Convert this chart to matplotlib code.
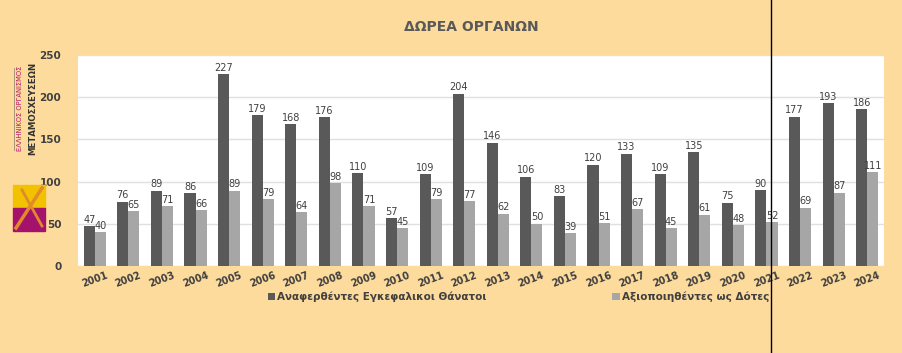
import numpy as np
import matplotlib.pyplot as plt
from matplotlib.patches import Rectangle

years = ['2001', '2002', '2003', '2004', '2005', '2006', '2007', '2008', '2009', '2010',
         '2011', '2012', '2013', '2014', '2015', '2016', '2017', '2018', '2019', '2020',
         '2021', '2022', '2023', '2024']
reported = [47, 76, 89, 86, 227, 179, 168, 176, 110, 57, 109, 204, 146, 106, 83, 120,
            133, 109, 135, 75, 90, 177, 193, 186]
donors = [40, 65, 71, 66, 89, 79, 64, 98, 71, 45, 79, 77, 62, 50, 39, 51, 67, 45, 61,
          48, 52, 69, 87, 111]

bg = '#FDDB9C'
dark = '#595959'
light = '#A6A6A6'
txt = '#404040'

fig = plt.figure(figsize=(9.02, 3.53), dpi=100, facecolor=bg)
ax = fig.add_axes([78 / 902, 1 - 266 / 353, (884 - 78) / 902, (266 - 55) / 353])
ax.set_facecolor('white')

x = np.arange(len(years))
w = 0.33
b1 = ax.bar(x - w / 2, reported, w, color=dark, label='Αναφερθέντες Εγκεφαλικοι Θάνατοι', zorder=3)
b2 = ax.bar(x + w / 2, donors, w, color=light, label='Αξιοποιηθέντες ως Δότες', zorder=3)
ax.bar_label(b1, padding=1, fontsize=7, color=txt)
ax.bar_label(b2, padding=1, fontsize=7, color=txt)

ax.set_xlim(-0.5, len(years) - 0.5)
ax.set_ylim(0, 250)
ax.set_yticks([0, 50, 100, 150, 200, 250])
ax.yaxis.grid(True, color='#E0E0E0', linewidth=1, zorder=0)
ax.set_xticks(x)
ax.set_xticklabels(years, rotation=20, fontsize=7, fontweight='bold', color=txt)
for lbl in ax.get_yticklabels():
    lbl.set_fontsize(7.5)
    lbl.set_fontweight('bold')
    lbl.set_color(txt)
ax.tick_params(length=0, pad=3)
ax.tick_params(axis='y', pad=12)
for s in ax.spines.values():
    s.set_visible(False)

fig.text(471 / 902, 1 - 27 / 353, 'ΔΩΡΕΑ ΟΡΓΑΝΩΝ', ha='center', va='center',
         fontsize=10, fontweight='bold', color=dark)

leg_kw = dict(frameon=False, handlelength=0.7, handleheight=0.7, handletextpad=0.2,
              borderaxespad=0, borderpad=0, prop={'weight': 'bold', 'size': 7.5}, labelcolor=txt)
fig.legend(handles=[b1], loc='center left', bbox_to_anchor=(268 / 902, 1 - 297 / 353), **leg_kw)
fig.legend(handles=[b2], loc='center right', bbox_to_anchor=(769 / 902, 1 - 297 / 353), **leg_kw)

# divider line
fig.add_artist(plt.Line2D([771 / 902, 771 / 902], [0, 1], color='black', linewidth=1,
                          transform=fig.transFigure))

# logo
narrow = ['Liberation Sans Narrow', 'DejaVu Sans Condensed', 'DejaVu Sans']
fig.text(20 / 902, 1 - 108 / 353, 'ΕΛΛΗΝΙΚΟΣ ΟΡΓΑΝΙΣΜΟΣ', rotation=90, ha='center', va='center',
         fontsize=4.9, color='#B5166B', family=narrow)
fig.text(33 / 902, 1 - 108 / 353, 'ΜΕΤΑΜΟΣΧΕΥΣΕΩΝ', rotation=90, ha='center', va='center',
         fontsize=6.2, color='#333333', family=narrow, fontweight='bold')
fig.add_artist(plt.Line2D([14 / 902, 14 / 902], [1 - 150 / 353, 1 - 68 / 353], color='#9A8A70',
                          linewidth=0.6, transform=fig.transFigure))
fig.add_artist(Rectangle((13 / 902, 1 - 208 / 353), 32 / 902, 23 / 353, color='#F2C200',
                         transform=fig.transFigure))
fig.add_artist(Rectangle((13 / 902, 1 - 231 / 353), 32 / 902, 23 / 353, color='#A5126C',
                         transform=fig.transFigure))
fig.add_artist(plt.Line2D([16 / 902, 42 / 902], [1 - 228 / 353, 1 - 188 / 353], color='#E08A2C',
                          linewidth=2.5, transform=fig.transFigure))
fig.add_artist(plt.Line2D([22 / 902, 42 / 902], [1 - 190 / 353, 1 - 226 / 353], color='#E08A2C',
                          linewidth=2, transform=fig.transFigure))

fig.savefig('out.png', dpi=100, facecolor=bg)
